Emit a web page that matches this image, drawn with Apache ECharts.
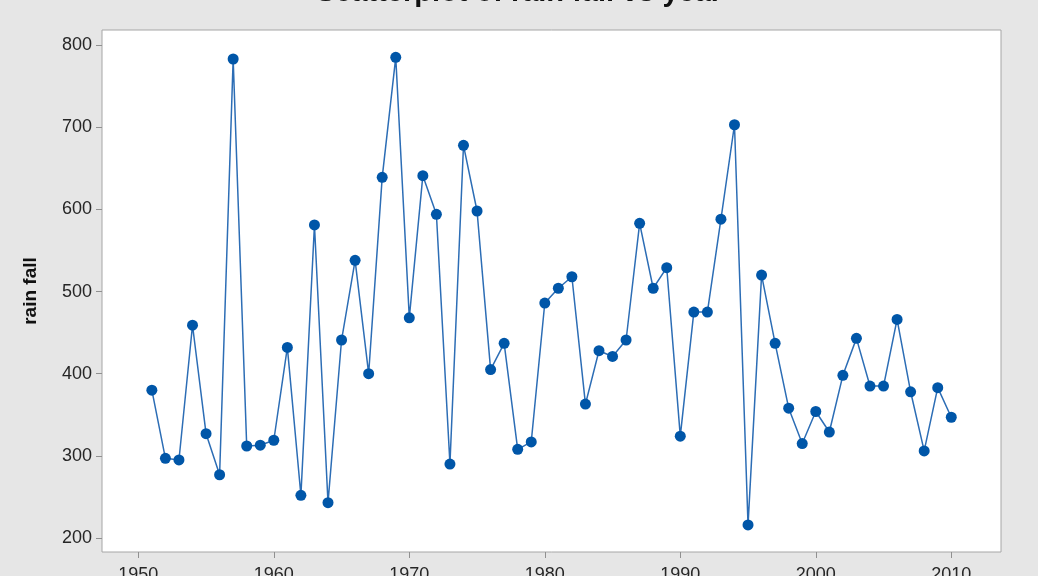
<!DOCTYPE html>
<html>
<head>
<meta charset="utf-8">
<script src="https://cdn.jsdelivr.net/npm/echarts@6/dist/echarts.min.js"></script>
<style>
html,body{margin:0;padding:0;background:#e6e6e6;}
#c{width:1038px;height:576px;}
</style>
</head>
<body>
<div id="c"></div>
<script>
const years = [1951,1952,1953,1954,1955,1956,1957,1958,1959,1960,1961,1962,1963,1964,1965,1966,1967,1968,1969,1970,1971,1972,1973,1974,1975,1976,1977,1978,1979,1980,1981,1982,1983,1984,1985,1986,1987,1988,1989,1990,1991,1992,1993,1994,1995,1996,1997,1998,1999,2000,2001,2002,2003,2004,2005,2006,2007,2008,2009,2010];
const rainFall = [380,297,295,459,327,277,783,312,313,319,432,252,581,243,441,538,400,639,785,468,641,594,290,678,598,405,437,308,317,486,504,518,363,428,421,441,583,504,529,324,475,475,588,703,216,520,437,358,315,354,329,398,443,385,385,466,378,306,383,347];
const xTicks = [1950,1960,1970,1980,1990,2000,2010];
const yTicks = [200,300,400,500,600,700,800];

const chart = echarts.init(document.getElementById('c'));
const font = 'Liberation Sans, Arial, sans-serif';
chart.setOption({
  backgroundColor: '#e6e6e6',
  animation: false,
  title: {
    text: 'Scatterplot of rain fall vs year',
    left: 'center',
    top: -27,
    textStyle: {fontSize: 29, fontWeight: 'bold', color: '#111111', fontFamily: font}
  },
  grid: {
    left: 102, top: 30, right: 37, bottom: 24,
    outerBoundsMode: 'none',
    containLabel: false,
    show: true, backgroundColor: '#ffffff', borderColor: '#a6a6a6', borderWidth: 1
  },
  xAxis: {
    type: 'value',
    min: 1947.32, max: 2013.67,
    axisLine: {show: false},
    splitLine: {show: false},
    axisTick: {show: true, length: 6, lineStyle: {color: '#909090'}, customValues: xTicks},
    axisLabel: {customValues: xTicks, formatter: v => String(v), fontSize: 18, color: '#262626', fontFamily: font, margin: 14}
  },
  yAxis: {
    type: 'value',
    min: 183, max: 818.3,
    name: 'rain fall',
    nameLocation: 'middle',
    nameGap: 62,
    nameTextStyle: {fontSize: 19, fontWeight: 'bold', color: '#111111', fontFamily: font},
    axisLine: {show: false},
    splitLine: {show: false},
    axisTick: {show: true, length: 6, lineStyle: {color: '#909090'}, customValues: yTicks},
    axisLabel: {customValues: yTicks, formatter: v => String(v), fontSize: 18, color: '#262626', fontFamily: font, margin: 10}
  },
  series: [{
    type: 'line',
    data: years.map((y, i) => [y, rainFall[i]]),
    symbol: 'circle',
    symbolSize: 11,
    lineStyle: {color: '#2c6db5', width: 1.5},
    itemStyle: {color: '#0056a8'}
  }]
});
</script>
</body>
</html>
